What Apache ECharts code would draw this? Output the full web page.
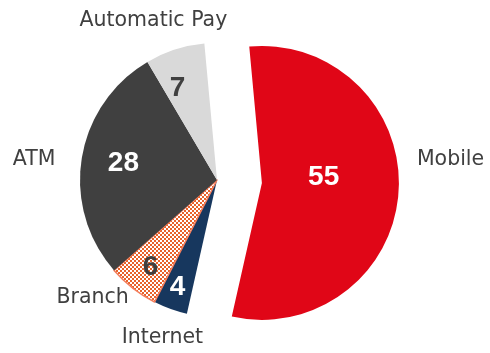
<!DOCTYPE html>
<html>
<head>
<meta charset="utf-8">
<script src="https://cdn.jsdelivr.net/npm/echarts@6/dist/echarts.min.js"></script>
<style>
  html, body { margin: 0; padding: 0; background: #ffffff; }
  #chart { width: 490px; height: 353px; }
</style>
</head>
<body>
<div id="chart"></div>
<script>
// Share of transactions by channel (percent)
const categories = ['Mobile', 'Internet', 'Branch', 'ATM', 'Automatic Pay'];
const shares = [55, 4, 6, 28, 7];
const explodedSlice = 'Mobile';

// Pie geometry
const CX = 217, CY = 180, RADIUS = 137;
const START_CW = -5.3;          // first slice edge, degrees clockwise from 12 o'clock
const EXPLODE_OFFSET = 45;

// Label placement relative to each slice's mid angle: [angle delta (deg), distance (px)]
const valueLabelPolar = [[-8.6, 62], [0.4, 114], [-0.8, 110], [0.9, 95], [-5.3, 100]];
const nameLabelPolar = [[-10.6, 190], [-0.8, 167], [8.8, 171], [-2.7, 184], [-3.8, 172]];

function checker(c1, c2, cell) {
  const cv = document.createElement('canvas');
  cv.width = cv.height = cell * 2;
  const g = cv.getContext('2d');
  g.fillStyle = c1; g.fillRect(0, 0, cell * 2, cell * 2);
  g.fillStyle = c2; g.fillRect(0, 0, cell, cell); g.fillRect(cell, cell, cell, cell);
  return cv;
}

const sliceStyles = [
  { color: '#E00617' },
  { color: '#17375E' },
  { color: { image: checker('#E8622A', '#FFFFFF', 2), repeat: 'repeat' }, borderColor: '#F47E5C', borderWidth: 1.5 },
  { color: '#404040' },
  { color: '#D9D9D9' }
];
const valueColors = ['#FFFFFF', '#FFFFFF', '#404040', '#FFFFFF', '#404040'];

const total = shares.reduce((a, b) => a + b, 0);
function midAngle(i) {
  let c = 0;
  for (let j = 0; j < i; j++) c += shares[j];
  return START_CW + 360 * (c + shares[i] / 2) / total;
}
function polarPoint(i, delta, dist) {
  const m = midAngle(i) * Math.PI / 180;
  const a = (midAngle(i) + delta) * Math.PI / 180;
  const shift = categories[i] === explodedSlice ? EXPLODE_OFFSET : 0;
  return [
    CX + shift * Math.sin(m) + dist * Math.sin(a),
    CY - shift * Math.cos(m) - dist * Math.cos(a)
  ];
}
function placeBy(table) {
  return p => {
    const i = p.dataIndex;
    const pt = polarPoint(i, table[i][0], table[i][1]);
    return { x: pt[0], y: pt[1], align: 'center', verticalAlign: 'middle' };
  };
}

const chart = echarts.init(document.getElementById('chart'), null, { renderer: 'canvas' });

const base = {
  type: 'pie',
  center: [CX, CY],
  radius: RADIUS,
  startAngle: 90 - START_CW,
  clockwise: true,
  avoidLabelOverlap: false,
  labelLine: { show: false },
  animation: false,
  emphasis: { disabled: true }
};

// transparent overlay carrying one kind of label
function labelLayer(name, label, table) {
  return Object.assign({}, base, {
    name: name,
    silent: true,
    data: categories.map((n, i) => ({
      name: n,
      value: shares[i],
      itemStyle: { color: 'rgba(0,0,0,0)', borderWidth: 0 },
      label: label.perItem ? label.perItem(i) : {}
    })),
    label: label.common,
    labelLayout: placeBy(table)
  });
}

chart.setOption({
  backgroundColor: '#ffffff',
  series: [
    Object.assign({}, base, {
      name: 'share',
      selectedMode: 'single',
      selectedOffset: EXPLODE_OFFSET,
      label: { show: false },
      data: categories.map((name, i) => ({
        name: name,
        value: shares[i],
        selected: name === explodedSlice,
        itemStyle: sliceStyles[i],
        select: { itemStyle: sliceStyles[i] }
      }))
    }),
    labelLayer('channel', {
      common: {
        show: true,
        position: 'outside',
        formatter: '{b}',
        fontFamily: 'DejaVu Sans, sans-serif',
        fontSize: 20.5,
        color: '#404040'
      }
    }, nameLabelPolar),
    labelLayer('value', {
      common: {
        show: true,
        position: 'inside',
        formatter: '{c}',
        fontFamily: 'Liberation Sans, Arial, sans-serif',
        fontWeight: 'bold',
        fontSize: 28
      },
      perItem: i => ({ color: valueColors[i] })
    }, valueLabelPolar)
  ]
});
</script>
</body>
</html>
